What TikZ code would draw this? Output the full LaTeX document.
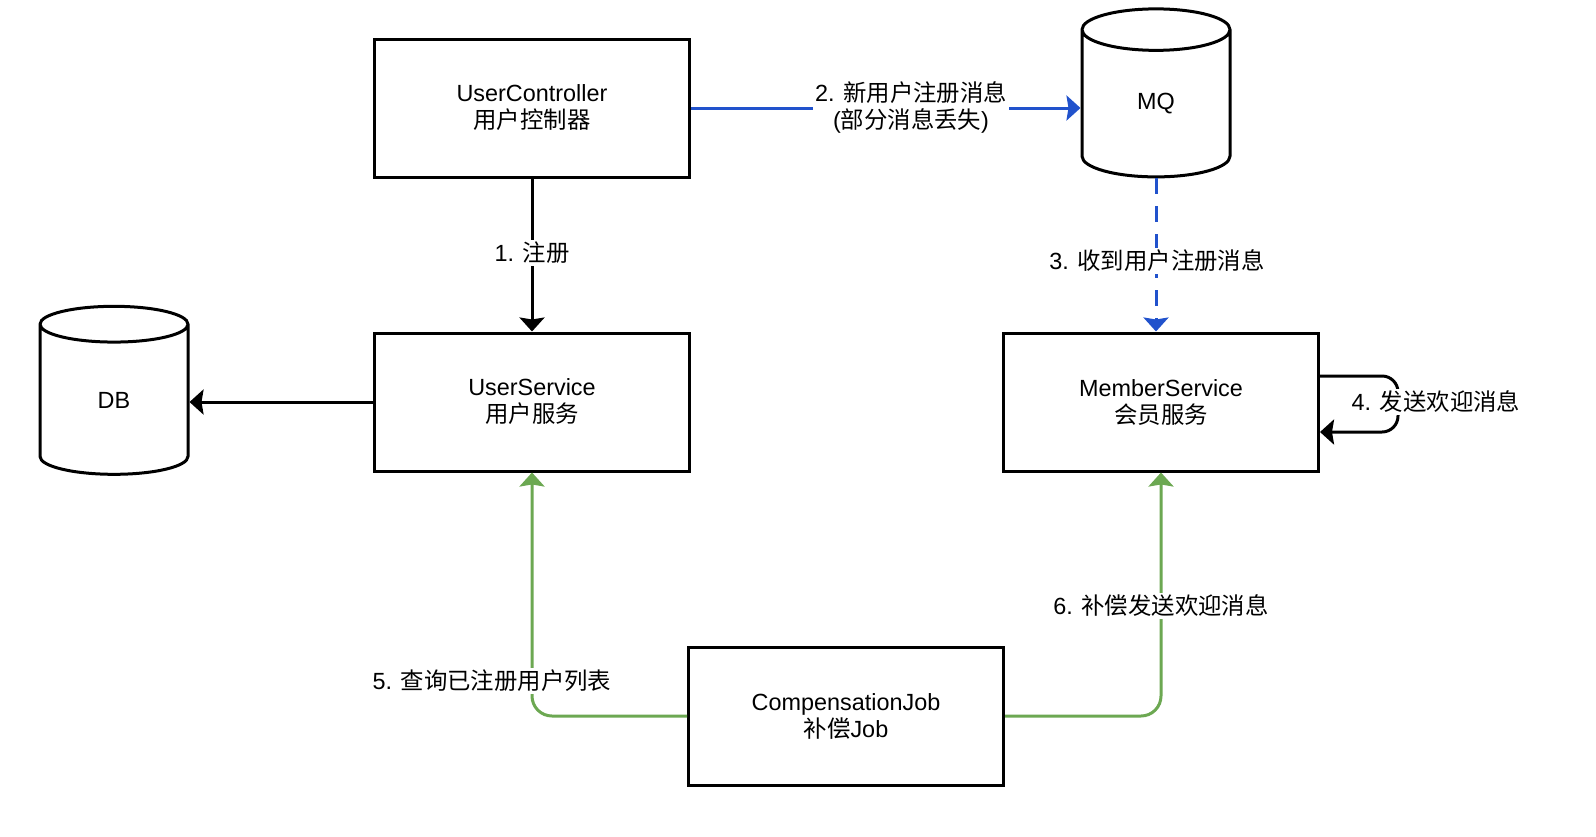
\documentclass[tikz,border=0pt]{standalone}
\usepackage{fontspec}
\setmainfont{Liberation Sans}
\newfontfamily\cjk{Noto Sans CJK SC}
\usetikzlibrary{shapes.geometric,arrows.meta}
\definecolor{msgblue}{RGB}{33,82,204}
\definecolor{jobgreen}{RGB}{108,168,82}

\begin{document}
\begin{tikzpicture}[x=0.5pt,y=-0.5pt,
  every node/.style={font=\fontsize{11.7}{13.5}\selectfont},
  box/.style={draw,line width=1.5pt,minimum width=157.5pt,minimum height=69pt,align=center,inner sep=0pt},
  store/.style={draw,line width=1.5pt,cylinder,shape border rotate=90,aspect=1.1,minimum width=74pt,minimum height=84pt,inner sep=0pt},
  conn/.style={line width=1.5pt,-{Stealth[length=7pt,width=12.5pt,inset=1pt]}},
  lbl/.style={fill=white,inner sep=1pt,align=center}]
\useasboundingbox (0,0) rectangle (1596,836);
\node[box] (uc) at (532,108) {UserController\\{\cjk 用户控制器}};
\node[box] (us) at (532,402) {UserService\\{\cjk 用户服务}};
\node[box] (ms) at (1161,402) {MemberService\\{\cjk 会员服务}};
\node[box] (cj) at (846,716) {CompensationJob\\{\cjk 补偿}Job};
\node[store] (mq) at (1156,104) {MQ};
\node[store] (db) at (114,400) {DB};
\draw[conn] (uc) -- (us);
\draw[conn] (us.west) -- (us.west -| db.east);
\draw[conn,msgblue] (uc.east) -- (uc.east -| mq.west);
\draw[conn,msgblue,dashed,dash pattern=on 8pt off 6pt] (mq.south) -- (mq.south |- ms.north);
\draw[conn,rounded corners=8pt] ([yshift=13pt]ms.east) -- ++(39pt,0) -- ++(0,-28pt) -- ([yshift=-15pt]ms.east);
\draw[conn,jobgreen,rounded corners=10pt] (cj.west) -| (us.south);
\draw[conn,jobgreen,rounded corners=10pt] (cj.east) -| (ms.south);
\node[lbl] (l1) at (532,253) {1. {\cjk 注册}};
\node[lbl] (l2) at (911,107) {2. {\cjk 新用户注册消息}\\({\cjk 部分消息丢失})};
\node[lbl] (l3) at (1157,261) {3. {\cjk 收到用户注册消息}};
\node[lbl] (l4) at (1436,402) {4. {\cjk 发送欢迎消息}};
\node[lbl] (l5) at (492,681) {5. {\cjk 查询已注册用户列表}};
\node[lbl] (l6) at (1161,606) {6. {\cjk 补偿发送欢迎消息}};
\end{tikzpicture}
\end{document}
